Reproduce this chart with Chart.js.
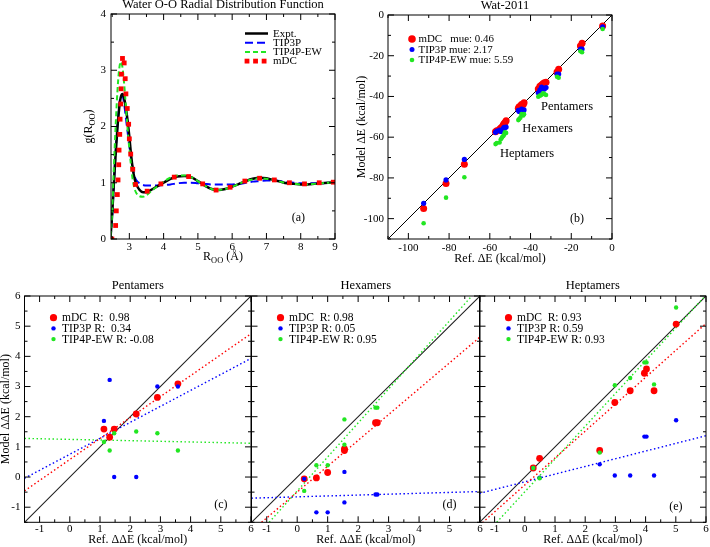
<!DOCTYPE html>
<html><head><meta charset="utf-8">
<script src="https://cdn.jsdelivr.net/npm/chart.js@4/dist/chart.umd.min.js"></script>
<style>
html,body{margin:0;padding:0;background:#fff;}
body{width:710px;height:547px;position:relative;overflow:hidden;}
canvas{position:absolute;left:0;top:0;}
</style></head>
<body>
<canvas id="cA" width="710" height="547"></canvas>
<canvas id="cB" width="710" height="547"></canvas>
<canvas id="cP" width="710" height="547"></canvas>
<canvas id="cH" width="710" height="547"></canvas>
<canvas id="cS" width="710" height="547"></canvas>
<script>
const FONT = '"Liberation Serif","Times New Roman",serif';
const RED = '#ff0000', BLUE = '#0000ff', GREEN = '#22e622';

// ---------- Panel (a): O-O radial distribution function ----------
const rdfR     = [2.45,2.5,2.55,2.6,2.65,2.7,2.75,2.8,2.85,2.9,2.95,3.0,3.05,3.1,3.15,3.2,3.3,3.4,3.5,3.6,3.8,4.0,4.2,4.4,4.6,4.8,5.0,5.2,5.4,5.6,5.8,6.0,6.2,6.4,6.6,6.8,7.0,7.2,7.4,7.6,7.8,8.0,8.2,8.4,8.6,8.8,9.0];
const gExpt    = [0.02,0.45,1.0,1.5,1.95,2.3,2.52,2.58,2.5,2.32,2.1,1.82,1.5,1.25,1.08,0.98,0.87,0.83,0.83,0.86,0.93,1.0,1.07,1.11,1.12,1.10,1.03,0.95,0.89,0.87,0.89,0.93,0.98,1.03,1.07,1.09,1.08,1.05,1.02,0.99,0.98,0.97,0.97,0.98,0.99,1.0,1.01];
const gTip3p   = [0.0,0.4,1.0,1.55,2.0,2.35,2.55,2.55,2.4,2.15,1.9,1.65,1.42,1.25,1.12,1.05,0.99,0.96,0.95,0.95,0.95,0.96,0.97,0.99,1.0,1.0,0.99,0.98,0.97,0.97,0.97,0.97,0.98,1.0,1.02,1.03,1.04,1.04,1.03,1.01,1.0,0.99,0.99,0.99,0.99,1.0,1.0];
const gTip4pew = [0.05,0.5,1.3,2.0,2.6,3.0,3.15,3.05,2.75,2.35,1.95,1.6,1.3,1.05,0.9,0.82,0.76,0.75,0.78,0.83,0.93,1.02,1.09,1.13,1.13,1.10,1.03,0.95,0.89,0.87,0.89,0.93,0.98,1.03,1.06,1.08,1.07,1.05,1.02,0.99,0.98,0.97,0.97,0.98,0.99,1.0,1.0];
const mdcR     = [2.49,2.60,2.62,2.65,2.67,2.69,2.70,2.72,2.73,2.75,2.76,2.77,2.80,2.85,2.88,2.90,2.94,2.98,3.00,3.04,3.10,3.18,3.52,3.92,4.31,4.73,5.14,5.53,5.94,6.37,6.80,7.23,7.67,8.11,8.54,8.95];
const mdcG     = [0.0,0.24,0.50,0.79,1.05,1.32,1.58,1.86,2.13,2.40,2.67,2.93,3.21,3.13,2.85,2.58,2.32,2.04,1.78,1.51,1.24,0.97,0.85,0.98,1.10,1.11,0.98,0.87,0.92,1.03,1.08,1.05,1.00,0.98,1.00,1.01];
const aXTicks = [3,4,5,6,7,8,9], aXMinor = [2.5,3.5,4.5,5.5,6.5,7.5,8.5];
const aYTicks = [0,1,2,3,4],     aYMinor = [0.5,1.5,2.5,3.5];
const aLegend = ['Expt.','TIP3P','TIP4P-EW','mDC'];

// ---------- Panel (b): Wat-2011 ----------
const bRef     = [-4.6,-14.7,-15.5,-26.2,-27.0,-36.2,-35.4,-34.6,-33.9,-33.2,-32.4,-46.0,-45.6,-45.0,-44.4,-44.4,-43.6,-43.2,-57.2,-56.6,-55.2,-54.6,-54.0,-53.4,-53.0,-52.6,-52.0,-72.5,-81.5,-92.5];
const bMdc     = [-5.4,-13.9,-15.2,-26.7,-28.0,-36.3,-35.0,-34.4,-33.8,-33.3,-33.0,-45.8,-45.0,-45.0,-44.2,-44.0,-43.9,-43.1,-57.3,-56.8,-56.1,-55.5,-55.0,-54.0,-53.4,-52.9,-51.9,-73.3,-82.7,-95.0];
const bTip3p   = [-5.8,-16.7,-16.7,-29.0,-29.0,-38.2,-36.8,-35.4,-36.0,-36.4,-35.6,-46.8,-47.4,-47.0,-47.5,-46.2,-47.2,-46.6,-57.6,-57.0,-56.5,-57.2,-56.8,-55.8,-55.2,-55.4,-55.0,-70.9,-81.0,-92.5];
const bTip4pew = [-6.9,-18.3,-17.8,-30.8,-30.3,-40.1,-39.6,-39.2,-38.5,-38.8,-39.3,-51.6,-51.1,-50.4,-49.1,-48.6,-49.3,-48.7,-63.4,-62.9,-62.6,-61.0,-60.1,-59.4,-58.8,-57.6,-57.9,-79.7,-89.7,-102.3];
const bTicks = [-100,-80,-60,-40,-20,0], bMinor = [-110,-90,-70,-50,-30,-10];
const bLegend = ['mDC   mue: 0.46','TIP3P mue: 2.17','TIP4P-EW mue: 5.59'];
const bGroups = ['Pentamers','Hexamers','Heptamers'];

// ---------- Bottom panels: relative energies ----------
const ddTicks = [-1,0,1,2,3,4,5,6];
const ddMinor = [-1.5,-0.5,0.5,1.5,2.5,3.5,4.5,5.5];

const pentRef     = [1.13,1.32,1.47,2.2,2.9,3.58];
const pentMdc     = [1.59,1.32,1.59,2.09,2.64,3.09];
const pentTip3p   = [1.86,3.22,0.0,0.0,3.0,3.0];
const pentTip4pew = [1.16,0.88,1.45,1.51,1.45,0.88];
const pentFitX = [-1.5,6], pentFitMdc = [-0.46,4.75], pentFitTip3p = [-0.04,3.93], pentFitTip4pew = [1.28,1.12];
const pentLegend = ['mDC  R:  0.98','TIP3P R:  0.34','TIP4P-EW R: -0.08'];

const hexRef     = [0.23,0.63,1.0,1.55,1.55,2.57,2.63];
const hexMdc     = [-0.06,-0.03,0.15,0.88,0.93,1.80,1.80];
const hexTip3p   = [-0.06,-1.17,-1.17,0.17,-0.84,-0.58,-0.58];
const hexTip4pew = [-0.46,0.39,0.39,1.07,1.91,2.30,2.30];
const hexFitMdcX = [-1.17,6], hexFitMdc = [-1.5,4.64];
const hexFitTip3pX = [-1.5,6], hexFitTip3p = [-0.70,-0.48];
const hexFitTip4pewX = [-0.92,5.73], hexFitTip4pew = [-1.5,6];
const hexLegend = ['mDC  R: 0.98','TIP3P R: 0.05','TIP4P-EW R: 0.95'];

const heptRef     = [0.28,0.49,2.48,2.98,3.49,3.96,4.03,4.28,5.01];
const heptMdc     = [0.30,0.62,0.88,2.47,2.86,3.44,3.58,2.86,5.07];
const heptTip3p   = [0.30,-0.02,0.42,0.05,0.05,1.34,1.34,0.05,1.88];
const heptTip4pew = [0.30,-0.04,0.81,3.04,3.28,3.80,3.80,3.07,5.62];
const heptFitMdcX = [-1.5,6], heptFitMdc = [-1.6,5.09];
const heptFitTip3pX = [-1.5,6], heptFitTip3p = [-0.54,1.37];
const heptFitTip4pewX = [-0.93,6], heptFitTip4pew = [-1.5,6.03];
const heptLegend = ['mDC  R: 0.93','TIP3P R: 0.59','TIP4P-EW R: 0.93'];

// ---------- helpers ----------
const pts = (xs, ys) => xs.map((x, i) => ({x, y: ys[i]}));

function drawRich(ctx, parts, x, y, size, rot) {
  ctx.save();
  ctx.translate(x, y);
  if (rot) ctx.rotate(rot);
  let w = 0;
  parts.forEach(p => { ctx.font = (p.sub ? size * 0.7 : size) + 'px ' + FONT; w += ctx.measureText(p.t).width; });
  let cx = -w / 2;
  ctx.textBaseline = 'middle'; ctx.textAlign = 'left'; ctx.fillStyle = '#000';
  parts.forEach(p => {
    ctx.font = (p.sub ? size * 0.7 : size) + 'px ' + FONT;
    ctx.fillText(p.t, cx, p.sub ? size * 0.3 : 0);
    cx += ctx.measureText(p.t).width;
  });
  ctx.restore();
}

function axis(min, max, ticks, show, pad, isY, fixed) {
  return {
    type: 'linear', min, max,
    grid: {display: false, drawTicks: false}, border: {display: false},
    ticks: {display: show, autoSkip: false, maxRotation: 0, padding: pad, color: '#000',
            font: {family: FONT, size: 11}, callback: v => String(v)},
    afterBuildTicks: s => { s.ticks = ticks.map(v => ({value: v})); },
    afterFit: s => {
      if (isY) { s.width = fixed; s.paddingTop = 0; s.paddingBottom = 0; }
      else { s.height = fixed; s.paddingLeft = 0; s.paddingRight = 0; }
    }
  };
}

function makePanel(id, sp) {
  const deco = {
    id: 'deco' + id,
    afterDatasetsDraw(chart) {
      const ctx = chart.ctx, a = chart.chartArea, x = chart.scales.x, y = chart.scales.y;
      ctx.save();
      ctx.strokeStyle = '#000'; ctx.lineWidth = 1;
      ctx.strokeRect(a.left, a.top, a.right - a.left, a.bottom - a.top);
      const tk = (vals, len, horiz) => vals.forEach(v => {
        ctx.beginPath();
        if (horiz) {
          const p = x.getPixelForValue(v);
          ctx.moveTo(p, a.bottom); ctx.lineTo(p, a.bottom - len);
          ctx.moveTo(p, a.top); ctx.lineTo(p, a.top + len);
        } else {
          const p = y.getPixelForValue(v);
          ctx.moveTo(a.left, p); ctx.lineTo(a.left + len, p);
          ctx.moveTo(a.right, p); ctx.lineTo(a.right - len, p);
        }
        ctx.stroke();
      });
      tk(sp.xMajor, 6, true); tk(sp.xMinor, 3, true);
      tk(sp.yMajor, 6, false); tk(sp.yMinor, 3, false);
      ctx.restore();
    },
    afterDraw(chart) {
      const ctx = chart.ctx, a = chart.chartArea, x = chart.scales.x, y = chart.scales.y;
      const cxm = (a.left + a.right) / 2, cym = (a.top + a.bottom) / 2;
      ctx.save();
      ctx.fillStyle = '#000'; ctx.textAlign = 'center'; ctx.textBaseline = 'middle';
      ctx.font = '12.5px ' + FONT;
      ctx.fillText(sp.title, cxm + (sp.titleDx || 0), a.top + sp.titleDy);
      ctx.restore();
      if (sp.xLabel) drawRich(ctx, sp.xLabel, cxm, a.bottom + sp.xLabelDy, 12, 0);
      if (sp.yLabel) drawRich(ctx, sp.yLabel, a.left + sp.yLabelDx, cym, 12, -Math.PI / 2);
      (sp.texts || []).forEach(t => {
        ctx.save();
        ctx.fillStyle = '#000'; ctx.textAlign = 'center'; ctx.textBaseline = 'middle';
        ctx.font = (t.size || 12) + 'px ' + FONT;
        ctx.fillText(t.t, x.getPixelForValue(t.x), y.getPixelForValue(t.y));
        ctx.restore();
      });
      if (sp.legend) {
        const L = sp.legend;
        ctx.save();
        L.items.forEach((it, i) => {
          const yy = a.top + L.top + i * L.gap;
          ctx.fillStyle = it.color; ctx.strokeStyle = it.color;
          if (it.kind === 'line') {
            ctx.lineWidth = it.width; ctx.setLineDash(it.dash || []);
            ctx.beginPath(); ctx.moveTo(a.left + L.symX, yy); ctx.lineTo(a.left + L.symX + L.symW, yy); ctx.stroke();
            ctx.setLineDash([]);
          } else if (it.kind === 'squares') {
            [0, 0.45, 0.9].forEach(f => {
              const px = a.left + L.symX + 2 + f * (L.symW - 4);
              ctx.fillRect(px - 2.4, yy - 2.4, 4.8, 4.8);
            });
          } else {
            ctx.beginPath(); ctx.arc(a.left + L.symX, yy, it.r, 0, Math.PI * 2); ctx.fill();
          }
          ctx.fillStyle = '#000'; ctx.textAlign = 'left'; ctx.textBaseline = 'middle';
          ctx.font = L.size + 'px ' + FONT;
          ctx.fillText(it.label, a.left + L.textX, yy + 0.5);
        });
        ctx.restore();
      }
    }
  };
  const A = sp.area, yW = Math.min(Math.floor(A.l), 34), xH = 20;
  return new Chart(document.getElementById(id), {
    type: 'scatter',
    data: {datasets: sp.datasets},
    options: {
      responsive: false, animation: false, events: [],
      layout: {padding: {left: A.l - yW, right: 710 - A.r, top: A.t, bottom: 547 - A.b - xH}},
      plugins: {legend: {display: false}, tooltip: {enabled: false}, title: {display: false}},
      scales: {
        x: axis(sp.xMin, sp.xMax, sp.xMajor, sp.showX, sp.xPad, false, xH),
        y: axis(sp.yMin, sp.yMax, sp.yMajor, sp.showY, sp.yPad, true, yW)
      }
    },
    plugins: [deco]
  });
}

const lineDs = (data, color, width, dash, order) => ({
  type: 'line', data, borderColor: color, borderWidth: width, borderDash: dash,
  pointRadius: 0, fill: false, showLine: true, tension: 0.35, cubicInterpolationMode: 'monotone', order
});
const dotDs = (data, color, r, order, style) => ({
  data, backgroundColor: color, borderColor: color, borderWidth: 0, pointRadius: r,
  pointStyle: style || 'circle', showLine: false, order
});

// ---------- Panel (a) ----------
makePanel('cA', {
  area: {l: 111, r: 335, t: 14, b: 239},
  xMin: 2.465, xMax: 9, yMin: 0, yMax: 4,
  xMajor: aXTicks, xMinor: aXMinor, yMajor: aYTicks, yMinor: aYMinor,
  showX: true, showY: true, xPad: 2, yPad: 5,
  title: 'Water O-O Radial Distribution Function', titleDy: -9, titleDx: 0,
  xLabel: [{t: 'R'}, {t: 'OO', sub: true}, {t: ' (\u00C5)'}], xLabelDy: 18,
  yLabel: [{t: 'g(R'}, {t: 'OO', sub: true}, {t: ')'}], yLabelDx: -22,
  texts: [{t: '(a)', x: 7.93, y: 0.38, size: 12}],
  legend: {top: 19.5, gap: 9.2, symX: 134, symW: 23, textX: 162, size: 11,
    items: [
      {kind: 'line', color: '#000', width: 2.5, label: aLegend[0]},
      {kind: 'line', color: BLUE, width: 2, dash: [8, 4], label: aLegend[1]},
      {kind: 'line', color: GREEN, width: 2, dash: [5, 3], label: aLegend[2]},
      {kind: 'squares', color: RED, label: aLegend[3]}
    ]},
  datasets: [
    lineDs(pts(rdfR, gTip3p), BLUE, 2, [8, 4], 3),
    lineDs(pts(rdfR, gExpt), '#000', 2.5, [], 2),
    lineDs(pts(rdfR, gTip4pew), GREEN, 2, [5, 3], 1),
    dotDs(pts(mdcR, mdcG), RED, 3.4, 0, 'rect')
  ]
});

// ---------- Panel (b) ----------
makePanel('cB', {
  area: {l: 388, r: 612, t: 15, b: 239},
  xMin: -110, xMax: 0, yMin: -110, yMax: 0,
  xMajor: bTicks, xMinor: bMinor, yMajor: bTicks, yMinor: bMinor,
  showX: true, showY: true, xPad: 3, yPad: 4,
  title: 'Wat-2011', titleDy: -9, titleDx: 5,
  xLabel: [{t: 'Ref. \u0394E (kcal/mol)'}], xLabelDy: 19.5,
  yLabel: [{t: 'Model \u0394E (kcal/mol)'}], yLabelDx: -26,
  texts: [
    {t: bGroups[0], x: -22.1, y: -45.0, size: 12.5},
    {t: bGroups[1], x: -31.6, y: -55.7, size: 12.5},
    {t: bGroups[2], x: -41.7, y: -67.9, size: 12.5},
    {t: '(b)', x: -17.2, y: -100.3, size: 12}
  ],
  legend: {top: 24, gap: 10.5, symX: 24, symW: 0, textX: 30.5, size: 10.9,
    items: [
      {kind: 'dot', color: RED, r: 3.8, label: bLegend[0]},
      {kind: 'dot', color: BLUE, r: 2.5, label: bLegend[1]},
      {kind: 'dot', color: GREEN, r: 2.3, label: bLegend[2]}
    ]},
  datasets: [
    lineDs([{x: -110, y: -110}, {x: 0, y: 0}], '#000', 1, [], 5),
    dotDs(pts(bRef, bMdc), RED, 3.5, 3),
    dotDs(pts(bRef, bTip3p), BLUE, 2.6, 2),
    dotDs(pts(bRef, bTip4pew), GREEN, 2.3, 1)
  ]
});

// ---------- Bottom panels ----------
function bottom(id, area, showY, title, texts, legendLabels, refs, m, t3, t4, fits) {
  makePanel(id, {
    area, xMin: -1.5, xMax: 6, yMin: -1.5, yMax: 6,
    xMajor: ddTicks, xMinor: ddMinor, yMajor: ddTicks, yMinor: ddMinor,
    showX: true, showY, xPad: 0, yPad: 4,
    title, titleDy: -10, titleDx: 0,
    xLabel: [{t: 'Ref. \u0394\u0394E (kcal/mol)'}], xLabelDy: 17.5,
    yLabel: showY ? [{t: 'Model \u0394\u0394E (kcal/mol)'}] : null, yLabelDx: -18.5,
    texts,
    legend: {top: 21.7, gap: 10.7, symX: 29, symW: 0, textX: 37.5, size: 11.5,
      items: [
        {kind: 'dot', color: RED, r: 3.6, label: legendLabels[0]},
        {kind: 'dot', color: BLUE, r: 2.2, label: legendLabels[1]},
        {kind: 'dot', color: GREEN, r: 2.2, label: legendLabels[2]}
      ]},
    datasets: [
      lineDs([{x: -1.5, y: -1.5}, {x: 6, y: 6}], '#222', 1.1, [], 6),
      lineDs(fits[0], RED, 1.4, [1.5, 2.5], 5),
      lineDs(fits[1], BLUE, 1.4, [1.5, 2.5], 5),
      lineDs(fits[2], GREEN, 1.4, [1.5, 2.5], 5),
      dotDs(pts(refs, m), RED, 3.4, 3),
      dotDs(pts(refs, t3), BLUE, 2.2, 2),
      dotDs(pts(refs, t4), GREEN, 2.2, 1)
    ]
  });
}

bottom('cP', {l: 24.5, r: 251, t: 296, b: 522.3}, true, 'Pentamers',
  [{t: '(c)', x: 5.0, y: -0.93}], pentLegend, pentRef, pentMdc, pentTip3p, pentTip4pew,
  [pts(pentFitX, pentFitMdc), pts(pentFitX, pentFitTip3p), pts(pentFitX, pentFitTip4pew)]);

bottom('cH', {l: 251.5, r: 480, t: 296, b: 522.3}, false, 'Hexamers',
  [{t: '(d)', x: 5.0, y: -0.93}], hexLegend, hexRef, hexMdc, hexTip3p, hexTip4pew,
  [pts(hexFitMdcX, hexFitMdc), pts(hexFitTip3pX, hexFitTip3p), pts(hexFitTip4pewX, hexFitTip4pew)]);

bottom('cS', {l: 479.5, r: 708, t: 296, b: 522.3}, false, 'Heptamers',
  [{t: '(e)', x: 5.0, y: -0.98}], heptLegend, heptRef, heptMdc, heptTip3p, heptTip4pew,
  [pts(heptFitMdcX, heptFitMdc), pts(heptFitTip3pX, heptFitTip3p), pts(heptFitTip4pewX, heptFitTip4pew)]);
</script>
</body></html>
